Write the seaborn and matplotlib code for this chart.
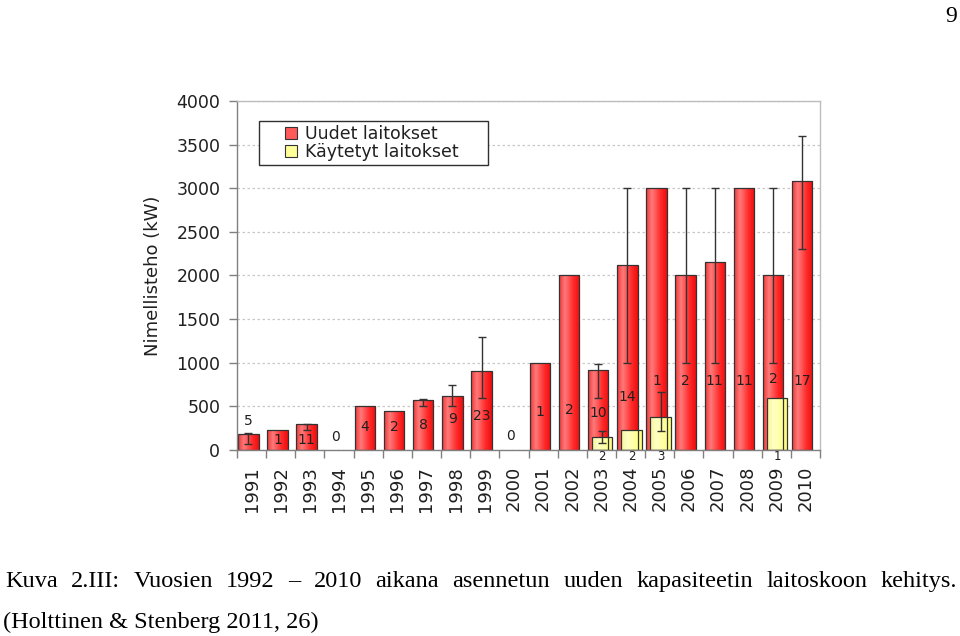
import numpy as np
import pandas as pd
import matplotlib
matplotlib.use("Agg")
import matplotlib.pyplot as plt
import seaborn as sns
from matplotlib.colors import LinearSegmentedColormap
from matplotlib.lines import Line2D

nan = np.nan

# ---------------- data ----------------
years = [str(y) for y in range(1991, 2011)]
# new plants (Uudet laitokset): mean rated power, kW
uudet = [180, 225, 300, 0, 500, 450, 575, 620, 900, 0,
         1000, 2000, 920, 2120, 3000, 2000, 2160, 3000, 2000, 3080]
uudet_min = [70, nan, 230, nan, nan, nan, 500, 500, 600, nan,
             nan, nan, 600, 1000, nan, 1000, 1000, nan, 1000, 2300]
uudet_max = [200, nan, 300, nan, nan, nan, 590, 750, 1300, nan,
             nan, nan, 990, 3000, nan, 3000, 3000, nan, 3000, 3600]
uudet_n = ["5", "1", "11", "0", "4", "2", "8", "9", "23", "0",
           "1", "2", "10", "14", "1", "2", "11", "11", "2", "17"]
# used plants (Käytetyt laitokset)
kaytetyt = [nan] * 12 + [150, 225, 375, nan, nan, nan, 600, nan]
kaytetyt_min = [nan] * 12 + [75, nan, 220, nan, nan, nan, nan, nan]
kaytetyt_max = [nan] * 12 + [220, nan, 660, nan, nan, nan, nan, nan]
kaytetyt_n = [""] * 12 + ["2", "2", "3", "", "", "", "1", ""]

# label heights for the counts (placement only)
label_y = [330, 115, 115, 150, 265, 265, 290, 355, 395, 165,
           440, 460, 425, 610, 790, 790, 790, 790, 810, 790]

caption1 = "Kuva 2.III: Vuosien 1992 – 2010 aikana asennetun uuden kapasiteetin laitoskoon kehitys."
caption2 = "(Holttinen & Stenberg 2011, 26)"

# ---------------- style ----------------
sns.set_theme(style="white")
plt.rcParams["font.family"] = ["DejaVu Sans"]

EDGE = "#333333"
RED = "#ff4a4a"
YEL = "#ffff99"
RED_SHIFT = -0.11
YEL_SHIFT = 0.03
BAR_W = 0.70

red_cmap = LinearSegmentedColormap.from_list(
    "red", [(0.0, "#f03838"), (0.28, "#ff7a7a"), (0.7, "#ff2a2a"), (1.0, "#ee0e0e")])
yel_cmap = LinearSegmentedColormap.from_list(
    "yel", [(0.0, "#f5f59a"), (0.3, "#ffffc4"), (1.0, "#ffff7a")])

fig = plt.figure(figsize=(9.6, 6.36), dpi=100)
ax = fig.add_axes([237 / 960, 1 - 450 / 636, 583 / 960, 349 / 636])

df_red = pd.DataFrame({"Vuosi": years, "Teho": uudet})
df_yel = pd.DataFrame({"Vuosi": years, "Teho": kaytetyt}).dropna()

sns.barplot(data=df_red, x="Vuosi", y="Teho", order=years, width=BAR_W,
            color=RED, saturation=1, edgecolor=EDGE, linewidth=0.9,
            errorbar=None, ax=ax)
n_red = len(ax.patches)
sns.barplot(data=df_yel, x="Vuosi", y="Teho", order=years, width=BAR_W,
            color=YEL, saturation=1, edgecolor=EDGE, linewidth=0.9,
            errorbar=None, ax=ax)
red_patches = list(ax.patches[:n_red])
yel_patches = list(ax.patches[n_red:])

grad = np.linspace(0, 1, 64).reshape(1, -1)


def finish(patches, shift, cmap):
    for p in patches:
        p.set_x(p.get_x() + shift)
        h = p.get_height()
        if not np.isfinite(h) or h <= 0:
            p.set_visible(False)
            continue
        x0, w = p.get_x(), p.get_width()
        im = ax.imshow(grad, extent=[x0, x0 + w, 0, h], aspect="auto",
                       cmap=cmap, origin="lower", zorder=1.9,
                       interpolation="bilinear")
        im.set_clip_path(p)
        p.set_facecolor("none")
        p.set_zorder(2)


finish(red_patches, RED_SHIFT, red_cmap)
finish(yel_patches, YEL_SHIFT, yel_cmap)

# error bars
for vals, lo, hi, shift in [(uudet, uudet_min, uudet_max, RED_SHIFT),
                            (kaytetyt, kaytetyt_min, kaytetyt_max, YEL_SHIFT)]:
    for i, (v, a, b) in enumerate(zip(vals, lo, hi)):
        if np.isnan(a):
            continue
        ax.errorbar(i + shift, v, yerr=[[v - a], [b - v]], fmt="none",
                    ecolor="#333333", elinewidth=1, capsize=3, capthick=1,
                    zorder=3)

# count labels
for i, (n, ly) in enumerate(zip(uudet_n, label_y)):
    ax.text(i + RED_SHIFT, ly, n, ha="center", va="center", fontsize=10,
            color="#202020", zorder=4)
for i, n in enumerate(kaytetyt_n):
    if n:
        ax.annotate(n, xy=(i + YEL_SHIFT, 0), xytext=(0, -5),
                    textcoords="offset points", ha="center", va="center",
                    fontsize=8.5, color="#202020", annotation_clip=False)

# axes
ax.set_xlim(-0.5, 19.5)
ax.set_ylim(0, 4000)
ax.set_yticks(np.arange(0, 4001, 500))
ax.set_xticks(range(len(years)))
ax.set_xticklabels(years)
ax.set_xticks(np.arange(-0.5, 20, 1), minor=True)
ax.set_xlabel("")
ax.set_ylabel("Nimellisteho (kW)", fontsize=13, color="#202020")
ax.yaxis.set_label_coords(-0.128, 0.5)
ax.tick_params(axis="x", which="major", length=0, pad=11.5, labelsize=13,
               labelrotation=90, labelcolor="#202020")
ax.tick_params(axis="x", which="minor", length=6, width=1, color="#808080",
               direction="out", bottom=True)
ax.tick_params(axis="y", length=6, width=1, color="#808080", pad=6,
               labelsize=12.5, labelcolor="#202020", left=True)
ax.set_axisbelow(True)
ax.yaxis.grid(True, linestyle=(0, (2, 2)), color="#c8c8c8", linewidth=0.9)
ax.xaxis.grid(False)
for s in ["left", "bottom"]:
    ax.spines[s].set_color("#808080")
    ax.spines[s].set_linewidth(1)
for s in ["top", "right"]:
    ax.spines[s].set_color("#bdbdbd")
    ax.spines[s].set_linewidth(1)

# legend
handles = [Line2D([], [], linestyle="none", marker="s", markersize=9,
                  markerfacecolor="#ff5a5a", markeredgecolor=EDGE,
                  markeredgewidth=0.8),
           Line2D([], [], linestyle="none", marker="s", markersize=9,
                  markerfacecolor=YEL, markeredgecolor=EDGE,
                  markeredgewidth=0.8)]
leg = ax.legend(handles, ["Uudet laitokset", "Käytetyt laitokset"],
                loc="upper left", bbox_to_anchor=(0.0377, 0.70, 0.393, 0.2436),
                mode="expand", borderaxespad=0, fontsize=12.5,
                handlelength=3.2, handletextpad=-0.8, borderpad=0.25,
                labelspacing=0.0, fancybox=False, framealpha=1)
leg.get_frame().set_edgecolor("#303030")
leg.get_frame().set_linewidth(1)
for t in leg.get_texts():
    t.set_color("#202020")

# page number and caption
fig.text(957 / 960, 1 - 22 / 636, "9", ha="right", va="baseline",
         fontsize=17, family="Liberation Serif", color="black")

words = caption1.split(" ")
word_txts = [fig.text(0, 1 - 587 / 636, w, ha="left", va="baseline",
                      fontsize=17.5, family="Liberation Serif", color="black")
             for w in words]
fig.canvas.draw()
r = fig.canvas.get_renderer()
widths = [t.get_window_extent(r).width for t in word_txts]
left, right = 5, 957
gap = (right - left - sum(widths)) / (len(words) - 1)
x = left
for t, w in zip(word_txts, widths):
    t.set_x(x / 960)
    x += w + gap

fig.text(3 / 960, 1 - 628 / 636, caption2, ha="left", va="baseline",
         fontsize=17.5, family="Liberation Serif", color="black")

fig.savefig("out.png", dpi=100)
